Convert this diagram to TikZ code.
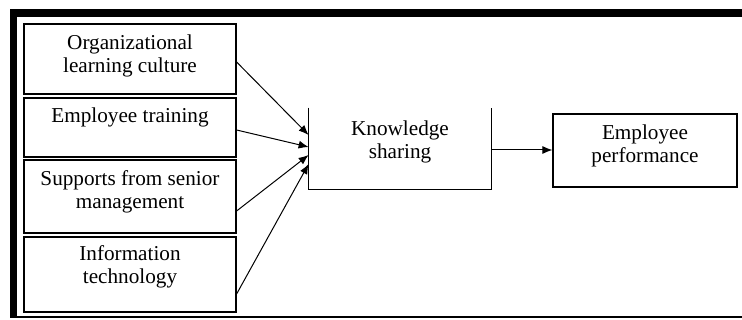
\documentclass[tikz,border=0pt]{standalone}
\usepackage{fontspec}
\setmainfont{Liberation Serif}
\usetikzlibrary{arrows.meta}
\begin{document}
\begin{tikzpicture}[x=0.5pt,y=-0.5pt,
  box/.style={draw=black,line width=0.6pt,minimum width=#1,inner sep=0pt},
  lbl/.style={align=center,inner sep=0pt,font=\fontsize{10.6}{11.5}\selectfont},
  link/.style={line width=0.5pt,-{Latex[length=5pt,width=4pt]}}]
\useasboundingbox (0,0) rectangle (742,320);
% outer frame: heavy top and left, thin bottom
\fill (10,9) rectangle (742,17);
\fill (10,9) rectangle (17,317);
\fill (10,315.8) rectangle (742,318);
% input factors
\node[box=106pt,minimum height=35pt] (b1) at (130,59) {};
\node[lbl] (t1) at (130,55.5) {Organizational\\learning culture};
\node[box=106pt,minimum height=29.5pt] (b2) at (130,127.5) {};
\node[lbl] (t2) at (130,117) {Employee training};
\node[box=106pt,minimum height=36.5pt] (b3) at (130,196.5) {};
\node[lbl] (t3) at (130,192) {Supports from senior\\management};
\node[box=106pt,minimum height=37.5pt] (b4) at (130,274.5) {};
\node[lbl] (t4) at (130,266.5) {Information\\technology};
% mediator (open at the top)
\node[minimum width=91pt,minimum height=40.5pt,inner sep=0pt] (ks) at (400,148.5) {};
\draw[line width=0.6pt] (ks.north west) -- (ks.south west) -- (ks.south east) -- (ks.north east);
\node[lbl] (tk) at (400,142) {Knowledge\\sharing};
% outcome
\node[box=92pt,minimum height=36.5pt] (ep) at (645,150.5) {};
\node[lbl] (te) at (645,145.5) {Employee\\performance};
% connectors
\draw[link] ([yshift=-1.5pt]b1.east) -- ([yshift=6.75pt]ks.west);
\draw[link] ([yshift=-1.25pt]b2.east) -- ([yshift=0.75pt]ks.west);
\draw[link] ([yshift=-7.25pt]b3.east) -- ([yshift=-3.25pt]ks.west);
\draw[link] ([yshift=-9.75pt]b4.east) -- ([yshift=-7.75pt]ks.west);
\draw[link] ([yshift=-0.75pt]ks.east) -- ([yshift=0.25pt]ep.west);
\end{tikzpicture}
\end{document}
